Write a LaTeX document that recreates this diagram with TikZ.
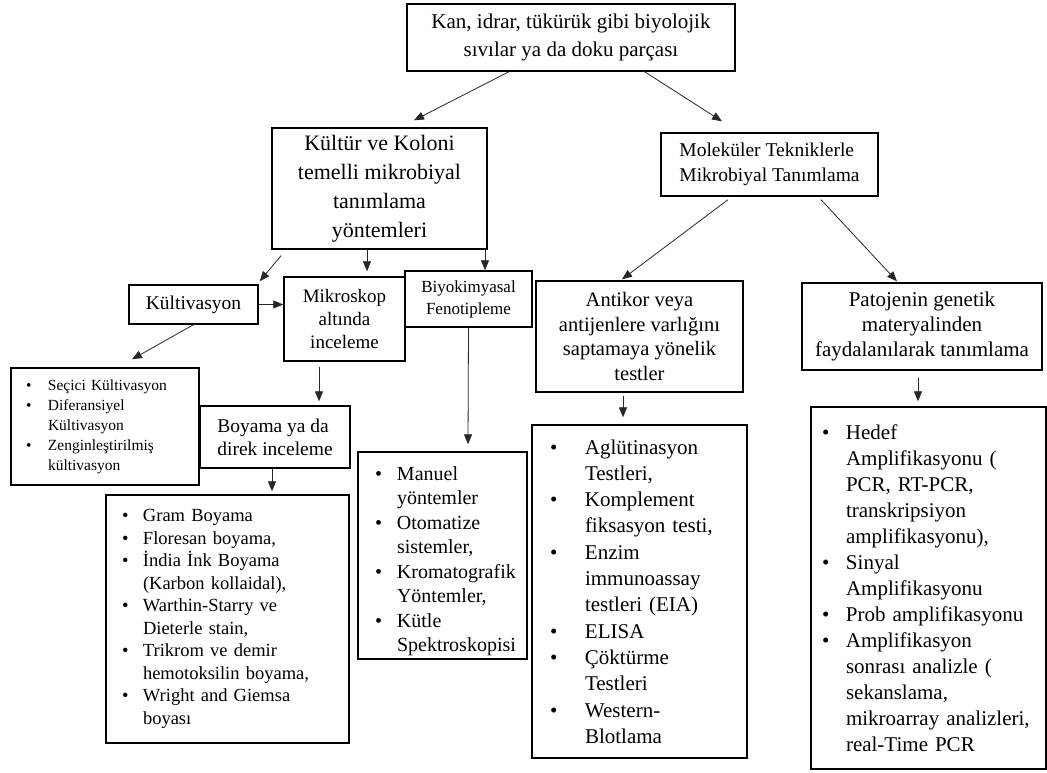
\documentclass[tikz,border=0pt]{standalone}
\usepackage{fontspec}
\setmainfont{Liberation Serif}
\usepackage{tikz}
\usetikzlibrary{arrows.meta,positioning,calc}

\newlength\bulw
\newcommand{\blitem}[1]{\mbox{\makebox[\bulw][l]{\textbullet}#1}}
\newcommand{\blcont}[1]{\mbox{\hspace*{\bulw}#1}}

\tikzset{
  box/.style={draw=black, line width=1.4pt, rectangle, inner sep=0pt, align=center},
  blist/.style={box, align=left},
  fsz/.style 2 args={font=\fontsize{#1}{#2}\selectfont},
  bw/.style={execute at begin node={\setlength\bulw{#1}}},
  arr/.style={-{Triangle[length=10pt,width=8pt]}, line width=0.8pt, draw=black!85},
}

\begin{document}
\begin{tikzpicture}[x=1pt, y=-1pt]
   \useasboundingbox (0,0) rectangle (1047,772);
   \begin{scope}[every node/.style={box}]
    \node (src) [fsz={21}{28}, minimum width=328pt, minimum height=67pt] at (571,37.5)
      {Kan, idrar, tükürük gibi biyolojik\\ sıvılar ya da doku parçası};
    \node (kul) [fsz={22}{29}, minimum width=215pt, minimum height=121pt] at (379.5,188.5)
      {Kültür ve Koloni\\ temelli mikrobiyal\\ tanımlama\\ yöntemleri};
    \node (mol) [fsz={19.5}{25}, align=left, minimum width=217pt, minimum height=63pt] at (769.5,164.5)
      {Moleküler Tekniklerle\\ Mikrobiyal Tanımlama};
    \node (kve) [fsz={19.5}{24}, minimum width=129pt, minimum height=39pt] at (193.5,304.5) {Kültivasyon};
    \node (mik) [fsz={19}{23}, minimum width=121pt, minimum height=84pt] at (344.5,319)
      {Mikroskop\\ altında\\ inceleme};
    \node (biy) [fsz={17}{22}, minimum width=127pt, minimum height=56pt] at (468.5,299)
      {Biyokimyasal\\ Fenotipleme};
    \node (boy) [fsz={19.5}{23}, align=left, minimum width=150pt, minimum height=62pt] at (275,437)
      {Boyama ya da\\ direk inceleme};
    \node (ant) [fsz={20.5}{24.5}, minimum width=207pt, minimum height=111pt] at (639.5,336.5)
      {Antikor veya\\ antijenlere varlığını\\ saptamaya yönelik\\ testler};
    \node (pat) [fsz={21}{25}, minimum width=240pt, minimum height=87pt] at (922,326.5)
      {Patojenin genetik\\ materyalinden\\ faydalanılarak tanımlama};
   \end{scope}
   \begin{scope}[every node/.style={blist}]
    \node (sec) [fsz={15.5}{20}, bw=22pt, inner xsep=15pt, text width=158pt, minimum height=117pt] at (105,426.5)
      {\blitem{Seçici Kültivasyon}\\ \blitem{Diferansiyel}\\ \blcont{Kültivasyon}\\
       \blitem{Zenginleştirilmiş}\\ \blcont{kültivasyon}};
    \node (grm) [fsz={18.5}{22.5}, bw=21pt, inner xsep=16pt, text width=211pt, minimum height=248pt] at (227.5,619)
      {\blitem{Gram Boyama}\\ \blitem{Floresan boyama,}\\ \blitem{İndia İnk Boyama}\\
       \blcont{(Karbon kollaidal),}\\ \blitem{Warthin-Starry ve}\\ \blcont{Dieterle stain,}\\
       \blitem{Trikrom ve demir}\\ \blcont{hemotoksilin boyama,}\\ \blitem{Wright and Giemsa}\\
       \blcont{boyası}};
    \node (man) [fsz={20}{24.5}, bw=22pt, inner xsep=17pt, text width=135pt, minimum height=207pt] at (442.5,555.5)
      {\blitem{\rule{0pt}{25pt}Manuel}\\ \blcont{yöntemler}\\ \blitem{Otomatize}\\ \blcont{sistemler,}\\
       \blitem{Kromatografik}\\ \blcont{Yöntemler,}\\ \blitem{Kütle}\\ \blcont{Spektroskopisi}};
    \node (agl) [fsz={21}{26.3}, bw=35pt, inner xsep=18pt, text width=179pt, minimum height=333pt] at (639.5,591.5)
      {\blitem{Aglütinasyon}\\ \blcont{Testleri,}\\ \blitem{Komplement}\\ \blcont{fiksasyon testi,}\\
       \blitem{Enzim}\\ \blcont{immunoassay}\\ \blcont{testleri (EIA)}\\ \blitem{ELISA}\\
       \blitem{Çöktürme}\\ \blcont{Testleri}\\ \blitem{Western-}\\ \blcont{Blotlama}};
    \node (hed) [fsz={21}{26}, bw=24pt, inner xsep=11pt, text width=213pt, minimum height=362pt] at (928.5,588)
      {\blitem{Hedef}\\ \blcont{Amplifikasyonu (}\\ \blcont{PCR, RT-PCR,}\\ \blcont{transkripsiyon}\\
       \blcont{amplifikasyonu),}\\ \blitem{Sinyal}\\ \blcont{Amplifikasyonu}\\ \blitem{Prob amplifikasyonu}\\
       \blitem{Amplifikasyon}\\ \blcont{sonrası analizle (}\\ \blcont{sekanslama,}\\
       \blcont{mikroarray analizleri,}\\ \blcont{real-Time PCR}};
   \end{scope}
   % arrows
   \draw[arr] ([xshift=-62pt]src.south) -- ([xshift=34.5pt,yshift=7pt]kul.north);
   \draw[arr] ([xshift=72pt,yshift=1pt]src.south) -- ([xshift=-47.5pt,yshift=11pt]mol.north);
   \draw[arr] ([xshift=-98.5pt,yshift=-6pt]kul.south) -- ([xshift=1pt,yshift=3pt]kve.north east);
   \draw[arr] ([xshift=-12.5pt]kul.south) -- ([xshift=22.5pt,yshift=5pt]mik.north);
   \draw[arr] ([xshift=105.5pt]kul.south) -- ([xshift=16.5pt]biy.north);
   \draw[arr] (kve.east) -- (kve.east -| mik.west);
   \draw[arr] (kve.south) -- ([xshift=27pt,yshift=8pt]sec.north);
   \draw[arr] ([xshift=-25.5pt,yshift=-5pt]mik.south) -- ([xshift=44pt,yshift=4pt]boy.north);
   \draw[arr] ([xshift=-3pt]boy.south) -- ([xshift=44.5pt,yshift=3pt]grm.north);
   \draw[arr] (biy.south) -- ([xshift=25.5pt,yshift=7pt]man.north);
   \draw[arr] ([xshift=-41.5pt,yshift=-3pt]mol.south) -- ([xshift=-17.5pt,yshift=1pt]ant.north);
   \draw[arr] ([xshift=51.5pt,yshift=-3pt]mol.south) -- ([xshift=-25pt,yshift=1pt]pat.north);
   \draw[arr] ([xshift=-16.5pt,yshift=-3pt]ant.south) -- ([xshift=-16.5pt,yshift=7pt]agl.north);
   \draw[arr] ([xshift=-4pt,yshift=-7pt]pat.south) -- ([xshift=-10.5pt,yshift=5pt]hed.north);
\end{tikzpicture}
\end{document}
